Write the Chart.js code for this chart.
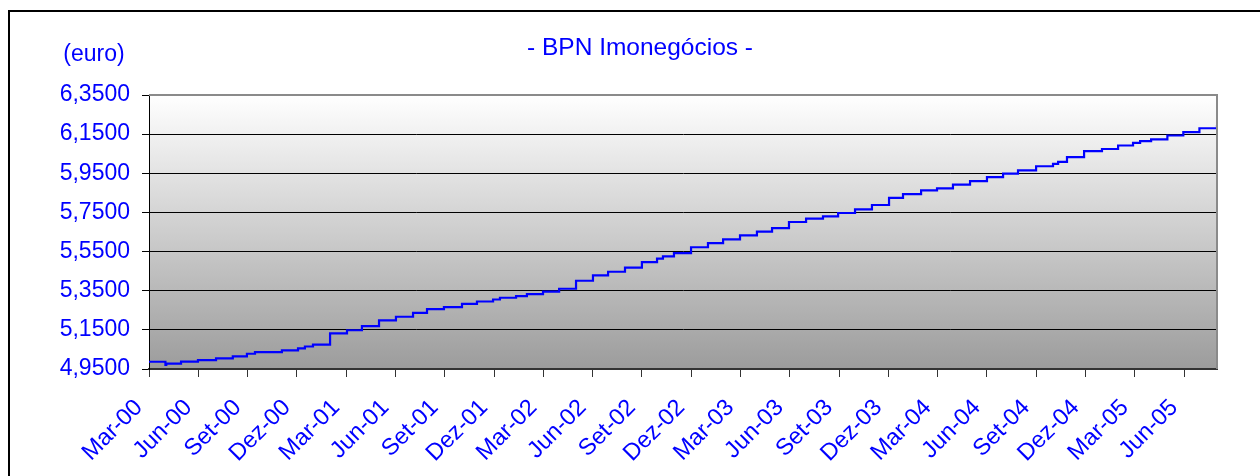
<!DOCTYPE html>
<html>
<head>
<meta charset="utf-8">
<script src="https://cdn.jsdelivr.net/npm/chart.js@4"></script>
<style>
    body { margin: 0; background: #fff; width: 1260px; height: 476px; overflow: hidden; position: relative; }
    #frame { position: absolute; left: 8px; top: 10px; width: 1300px; height: 500px; border: 2px solid #000; box-sizing: border-box; }
    #chartBox { position: absolute; left: 0; top: 0; width: 1260px; height: 476px; }
</style>
</head>
<body>
<div id="frame"></div>
<div id="chartBox"><canvas id="navChart" width="1260" height="476"></canvas></div>
<script>
// months counted from Mar-00, where each new value level starts
const stepMonth = [
    0, 1, 1.05, 1.95, 2.98, 4.08, 5.1, 5.96, 6.45, 8.09, 9.07, 9.49, 9.98,
    11.02, 12.05, 12.96, 14, 15.03, 16.07, 16.92, 17.95, 19.05, 19.96, 20.94,
    21.36, 22.34, 23, 23.98, 24.96, 25.99, 27.02, 27.94, 28.97, 30, 30.92,
    31.28, 31.95, 32.99, 34.02, 34.94, 35.97, 37, 37.92, 38.95, 39.99, 41.02,
    41.94, 42.97, 44, 45.04, 45.89, 46.99, 47.96, 48.93, 49.97, 51, 51.98,
    52.89, 53.99, 55.02, 55.33, 55.87, 56.91, 58, 58.98, 59.89, 60.32, 60.99,
    61.98, 62.95, 63.93, 65
];

// unit value (euro)
const navValues = [
    4.987, 4.971, 4.977, 4.988, 4.995, 5.004, 5.014, 5.028, 5.036, 5.045, 5.055, 5.065, 5.075,
    5.132, 5.148, 5.169, 5.198, 5.217, 5.237, 5.256, 5.266, 5.283, 5.295, 5.305,
    5.314, 5.322, 5.333, 5.345, 5.360, 5.401, 5.428, 5.447, 5.468, 5.496, 5.514,
    5.525, 5.542, 5.572, 5.593, 5.612, 5.633, 5.652, 5.670, 5.701, 5.718, 5.730,
    5.747, 5.766, 5.788, 5.824, 5.844, 5.863, 5.873, 5.892, 5.910, 5.930, 5.948,
    5.965, 5.986, 5.998, 6.008, 6.033, 6.063, 6.074, 6.092, 6.105, 6.114, 6.123,
    6.143, 6.160, 6.180, 6.197
];

const tickLabels = [
    "Mar-00", "Jun-00", "Set-00", "Dez-00",
    "Mar-01", "Jun-01", "Set-01", "Dez-01",
    "Mar-02", "Jun-02", "Set-02", "Dez-02",
    "Mar-03", "Jun-03", "Set-03", "Dez-03",
    "Mar-04", "Jun-04", "Set-04", "Dez-04",
    "Mar-05", "Jun-05"
];

const chartTitle = "- BPN Imonegócios -";
const unitLabel = "(euro)";

const blue = "#0000FF";
const fontFamily = "'Liberation Sans', Arial, sans-serif";

// grey gradient behind the plot, titles and frame on top
const decorPlugin = {
    id: "decor",
    beforeDraw(chart) {
        const { ctx, chartArea: a } = chart;
        const g = ctx.createLinearGradient(0, a.top, 0, a.bottom);
        g.addColorStop(0, "#ffffff");
        g.addColorStop(1, "#9c9c9c");
        ctx.save();
        ctx.fillStyle = g;
        ctx.fillRect(a.left, a.top, a.right - a.left, a.bottom - a.top);
        ctx.restore();
    },
    afterDraw(chart) {
        const { ctx, chartArea: a } = chart;
        ctx.save();
        ctx.strokeStyle = "#8a8a8a";
        ctx.lineWidth = 2;
        ctx.beginPath();
        ctx.moveTo(a.left, a.top);
        ctx.lineTo(a.right, a.top);
        ctx.lineTo(a.right, a.bottom);
        ctx.stroke();

        ctx.fillStyle = blue;
        ctx.textAlign = "center";
        ctx.textBaseline = "alphabetic";
        ctx.font = "24.5px " + fontFamily;
        ctx.fillText(chartTitle, 640, 55);
        ctx.font = "23px " + fontFamily;
        ctx.fillText(unitLabel, 94, 61);
        ctx.restore();
    }
};

const points = stepMonth.map((m, i) => ({ x: m, y: navValues[i] }));

new Chart(document.getElementById("navChart"), {
    type: "line",
    data: {
        datasets: [{
            data: points,
            borderColor: blue,
            borderWidth: 2.2,
            stepped: "before",
            pointRadius: 0,
            fill: false
        }]
    },
    options: {
        responsive: false,
        animation: false,
        layout: { padding: { top: 95, right: 43, left: 0, bottom: 0 } },
        plugins: {
            legend: { display: false },
            tooltip: { enabled: false }
        },
        scales: {
            x: {
                type: "linear",
                min: 0,
                max: 65,
                afterFit: s => { s.height = 107; },
                border: { color: "#333", width: 2 },
                grid: { drawOnChartArea: false, drawTicks: true, tickLength: 8, color: "#333" },
                ticks: {
                    stepSize: 3,
                    includeBounds: false,
                    autoSkip: false,
                    minRotation: 45,
                    maxRotation: 45,
                    padding: 17,
                    labelOffset: -10,
                    color: blue,
                    font: { family: fontFamily, size: 23.5 },
                    callback: v => tickLabels[v / 3]
                }
            },
            y: {
                min: 4.95,
                max: 6.35,
                afterFit: s => { s.width = 149; },
                border: { color: "#000", width: 1 },
                grid: { color: "#000", lineWidth: 1, tickLength: 7 },
                ticks: {
                    stepSize: 0.2,
                    padding: 12,
                    color: blue,
                    font: { family: fontFamily, size: 23 },
                    callback: v => v.toFixed(4).replace(".", ",")
                }
            }
        }
    },
    plugins: [decorPlugin]
});
</script>
</body>
</html>
